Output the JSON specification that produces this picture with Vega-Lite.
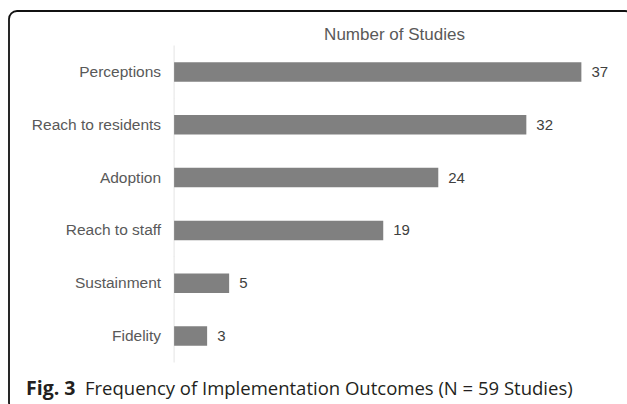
{
  "$schema": "https://vega.github.io/schema/vega-lite/v6.json",
  "width": 624,
  "height": 400,
  "autosize": {"type": "none"},
  "padding": {"left": 9, "top": 11, "right": 0, "bottom": 0},
  "background": "white",
  "config": {
    "view": {"stroke": "#111111", "strokeWidth": 1.8, "cornerRadius": 8},
    "font": "Liberation Sans",
    "axisX": {"orient": "top", "title": "Number of Studies", "labels": false, "ticks": false, "domain": false, "grid": false,
      "titleX": 385, "titleY": 28.5, "titleAlign": "center", "titleBaseline": "alphabetic", "titleFontSize": 17, "titleFontWeight": "normal", "titleColor": "#595959", "titleFont": "Liberation Sans"}
  },
  "datasets": {
    "outcomes": [
      {"outcome": "Perceptions", "studies": 37},
      {"outcome": "Reach to residents", "studies": 32},
      {"outcome": "Adoption", "studies": 24},
      {"outcome": "Reach to staff", "studies": 19},
      {"outcome": "Sustainment", "studies": 5},
      {"outcome": "Fidelity", "studies": 3}
    ],
    "caption": [
      {"part": "bold", "text": "Fig. 3"},
      {"part": "rest", "text": "Frequency of Implementation Outcomes (N = 59 Studies)"}
    ]
  },
  "layer": [
    {
      "data": {"name": "outcomes"},
      "mark": {"type": "tick", "orient": "vertical", "size": 53, "thickness": 1, "color": "#d9d9d9"},
      "encoding": {
        "x": {"datum": 0, "type": "quantitative", "scale": {"domain": [-15, 41.69], "nice": false, "zero": false}, "axis": {"orient": "top", "title": "Number of Studies"}},
        "y": {"field": "outcome", "type": "nominal", "sort": null, "scale": {"domain": ["Perceptions", "Reach to residents", "Adoption", "Reach to staff", "Sustainment", "Fidelity"], "range": [51.25, 334.75], "paddingInner": 0.631, "paddingOuter": 0, "round": false}, "axis": null}
      }
    },
    {
      "data": {"name": "outcomes"},
      "mark": {"type": "bar", "color": "#808080"},
      "encoding": {
        "x": {"field": "studies", "type": "quantitative", "scale": {"domain": [-15, 41.69], "nice": false, "zero": false}, "axis": {"orient": "top", "title": "Number of Studies"}},
        "x2": {"datum": 0},
        "y": {"field": "outcome", "type": "nominal", "sort": null, "scale": {"domain": ["Perceptions", "Reach to residents", "Adoption", "Reach to staff", "Sustainment", "Fidelity"], "range": [51.25, 334.75], "paddingInner": 0.631, "paddingOuter": 0, "round": false}, "axis": null}
      }
    },
    {
      "data": {"name": "outcomes"},
      "mark": {"type": "text", "align": "left", "baseline": "middle", "dx": 10, "fontSize": 15, "color": "#404040"},
      "encoding": {
        "x": {"field": "studies", "type": "quantitative", "scale": {"domain": [-15, 41.69], "nice": false, "zero": false}, "axis": {"orient": "top", "title": "Number of Studies"}},
        "y": {"field": "outcome", "type": "nominal", "sort": null, "scale": {"domain": ["Perceptions", "Reach to residents", "Adoption", "Reach to staff", "Sustainment", "Fidelity"], "range": [51.25, 334.75], "paddingInner": 0.631, "paddingOuter": 0, "round": false}, "axis": null},
        "text": {"field": "studies", "type": "quantitative"}
      }
    },
    {
      "data": {"name": "outcomes"},
      "mark": {"type": "text", "align": "right", "baseline": "middle", "dx": -13, "fontSize": 15.5, "color": "#595959"},
      "encoding": {
        "x": {"datum": 0, "type": "quantitative", "scale": {"domain": [-15, 41.69], "nice": false, "zero": false}, "axis": {"orient": "top", "title": "Number of Studies"}},
        "y": {"field": "outcome", "type": "nominal", "sort": null, "scale": {"domain": ["Perceptions", "Reach to residents", "Adoption", "Reach to staff", "Sustainment", "Fidelity"], "range": [51.25, 334.75], "paddingInner": 0.631, "paddingOuter": 0, "round": false}, "axis": null},
        "text": {"field": "outcome", "type": "nominal"}
      }
    },
    {
      "data": {"name": "caption"},
      "transform": [{"filter": "datum.part === 'bold'"}],
      "mark": {"type": "text", "align": "left", "baseline": "alphabetic", "dx": 17, "dy": 59, "fontSize": 19.5, "fontWeight": "bold", "font": "Open Sans", "color": "#231f20"},
      "encoding": {
        "x": {"datum": -15, "type": "quantitative", "scale": {"domain": [-15, 41.69], "nice": false, "zero": false}, "axis": {"orient": "top", "title": "Number of Studies"}},
        "y": {"datum": "Fidelity", "type": "nominal", "scale": {"domain": ["Perceptions", "Reach to residents", "Adoption", "Reach to staff", "Sustainment", "Fidelity"], "range": [51.25, 334.75], "paddingInner": 0.631, "paddingOuter": 0, "round": false}, "axis": null},
        "text": {"field": "text", "type": "nominal"}
      }
    },
    {
      "data": {"name": "caption"},
      "transform": [{"filter": "datum.part === 'rest'"}],
      "mark": {"type": "text", "align": "left", "baseline": "alphabetic", "dx": 76, "dy": 59, "fontSize": 18.5, "font": "Open Sans", "color": "#231f20"},
      "encoding": {
        "x": {"datum": -15, "type": "quantitative", "scale": {"domain": [-15, 41.69], "nice": false, "zero": false}, "axis": {"orient": "top", "title": "Number of Studies"}},
        "y": {"datum": "Fidelity", "type": "nominal", "scale": {"domain": ["Perceptions", "Reach to residents", "Adoption", "Reach to staff", "Sustainment", "Fidelity"], "range": [51.25, 334.75], "paddingInner": 0.631, "paddingOuter": 0, "round": false}, "axis": null},
        "text": {"field": "text", "type": "nominal"}
      }
    }
  ]
}
